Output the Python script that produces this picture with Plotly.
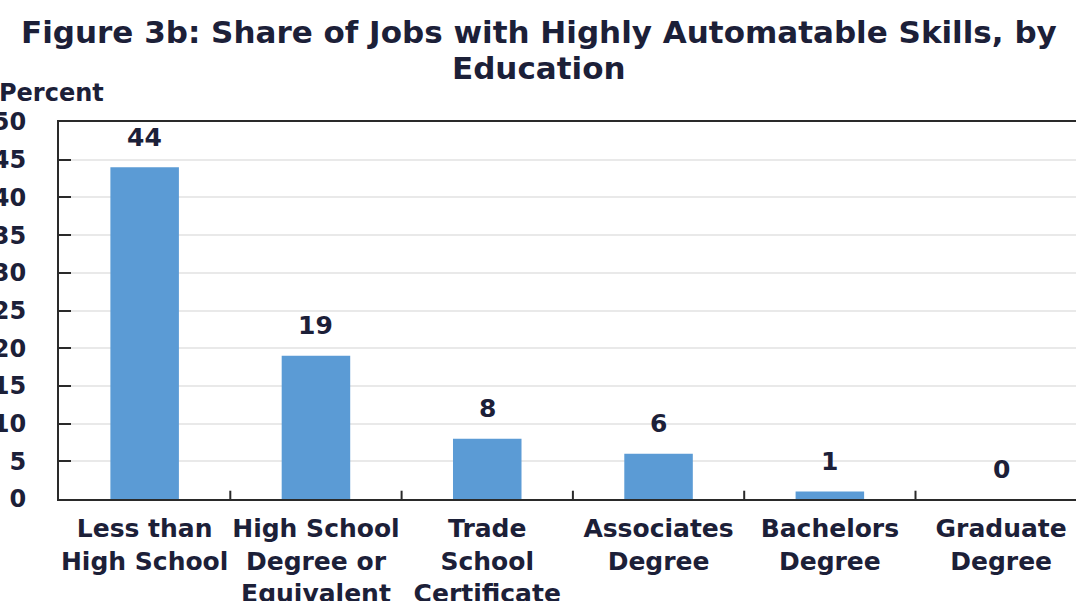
import plotly.graph_objects as go

# Education categories and share of jobs with highly automatable skills (%)
categories = [
    "Less than<br>High School",
    "High School<br>Degree or<br>Equivalent",
    "Trade<br>School<br>Certificate",
    "Associates<br>Degree",
    "Bachelors<br>Degree",
    "Graduate<br>Degree",
]
shares = [44, 19, 8, 6, 1, 0]
y_ticks = [0, 5, 10, 15, 20, 25, 30, 35, 40, 45, 50]
title_lines = ["Figure 3b: Share of Jobs with Highly Automatable Skills, by", "Education"]

TEXT = "#1c2038"
BAR = "#5b9bd5"
AXIS = "#2a2a2a"
FONT = "DejaVu Sans"

PLOT_W = 1076 - 59
PLOT_H = 601 - 122 - 102


def py(px):
    """paper y coordinate for a pixel row measured from the top of the figure"""
    return 1 + (122 - px) / PLOT_H


fig = go.Figure()
fig.add_trace(go.Bar(
    x=list(range(len(categories))),
    y=shares,
    marker=dict(color=BAR, line=dict(width=0)),
    width=0.4,
    hoverinfo="skip",
))

# value labels above each bar
for i, v in enumerate(shares):
    fig.add_annotation(
        x=i, y=v, text=f"<b>{v}</b>", showarrow=False,
        xref="x", yref="y", yanchor="middle", yshift=30,
        font=dict(family=FONT, size=25, color=TEXT),
    )

fig.add_annotation(
    text="<b>Percent</b>", xref="paper", yref="paper",
    x=-62 / PLOT_W, y=py(93), xanchor="left", yanchor="middle",
    showarrow=False, font=dict(family=FONT, size=24, color=TEXT),
)

# two-line chart title
for line, row in zip(title_lines, [32, 68]):
    fig.add_annotation(
        text=f"<b>{line}</b>", xref="paper", yref="paper",
        x=(539 - 59) / PLOT_W, y=py(row),
        xanchor="center", yanchor="middle", showarrow=False,
        font=dict(family=FONT, size=31, color=TEXT),
    )

fig.update_layout(
    width=1076, height=601,
    margin=dict(l=59, r=0, t=122, b=102, autoexpand=False),
    paper_bgcolor="white", plot_bgcolor="white",
    showlegend=False,
)

fig.update_xaxes(
    type="linear",
    range=[-0.5, -0.5 + PLOT_W / 171.3],
    tickmode="array",
    tickvals=list(range(len(categories))),
    ticktext=[f"<b>{c}</b>" for c in categories],
    ticks="", showgrid=False, zeroline=False,
    showline=True, linecolor=AXIS, linewidth=2, mirror=True,
    tickfont=dict(family=FONT, size=25, color=TEXT),
    ticklabelstandoff=6,
)

# boundary tick marks between categories
for b in range(len(categories)):
    fig.add_shape(
        type="line", xref="x", yref="y",
        x0=b + 0.5, x1=b + 0.5, y0=0, y1=1.1,
        line=dict(color=AXIS, width=2),
    )

fig.update_yaxes(
    range=[0, 50],
    tickmode="array", tickvals=y_ticks,
    ticktext=[f"<b>{t}</b>" for t in y_ticks],
    ticks="inside", ticklen=12, tickwidth=2, tickcolor=AXIS,
    showgrid=True, gridcolor="#e9e9e9", gridwidth=1.5,
    zeroline=False,
    showline=True, linecolor=AXIS, linewidth=2,
    tickfont=dict(family=FONT, size=24, color=TEXT),
    ticklabelstandoff=26,
)

fig.write_html("out.html")
